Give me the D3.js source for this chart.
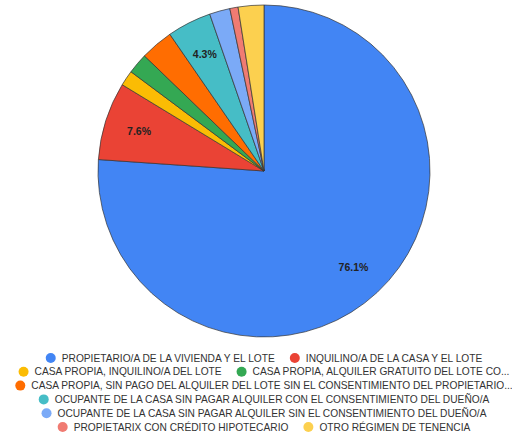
<!DOCTYPE html>
<html>
<head>
<meta charset="utf-8">
<script src="https://cdn.jsdelivr.net/npm/d3@7"></script>
<style>
  body { margin: 0; background: #fff; }
  svg { display: block; font-family: "Liberation Sans", Arial, sans-serif; }
</style>
</head>
<body>
<div id="vis"></div>
<script>
const FRAME_WIDTH = 512;
const FRAME_HEIGHT = 433;
const CENTER = {x: 264, y: 171};
const RADIUS = 166;

// data
const categories = [
  "PROPIETARIO/A DE LA VIVIENDA Y EL LOTE",
  "INQUILINO/A DE LA CASA Y EL LOTE",
  "CASA PROPIA, INQUILINO/A DEL LOTE",
  "CASA PROPIA, ALQUILER GRATUITO DEL LOTE CON EL CONSENTIMIENTO DEL PROPIETARIO/A",
  "CASA PROPIA, SIN PAGO DEL ALQUILER DEL LOTE SIN EL CONSENTIMIENTO DEL PROPIETARIO/A",
  "OCUPANTE DE LA CASA SIN PAGAR ALQUILER CON EL CONSENTIMIENTO DEL DUEÑO/A",
  "OCUPANTE DE LA CASA SIN PAGAR ALQUILER SIN EL CONSENTIMIENTO DEL DUEÑO/A",
  "PROPIETARIX CON CRÉDITO HIPOTECARIO",
  "OTRO RÉGIMEN DE TENENCIA"
];
const values = [76.1, 7.6, 1.5, 2.0, 3.2, 4.3, 2.0, 0.8, 2.5];
const colors = ["#4285F4", "#EA4335", "#FBBC04", "#34A853", "#FF6D01",
                "#46BDC6", "#7BAAF7", "#F07B72", "#FCD04F"];
const legendRows = [[0, 1], [2, 3], [4], [5], [6], [7, 8]];

const svg = d3.select("#vis")
              .append("svg")
              .attr("width", FRAME_WIDTH)
              .attr("height", FRAME_HEIGHT);

const data = categories.map((c, i) => ({name: c, value: values[i], color: colors[i]}));
const total = d3.sum(values);

const pie = d3.pie().value(d => d.value).sort(null);
const arc = d3.arc().innerRadius(0).outerRadius(RADIUS);
const labelArc = d3.arc().innerRadius(RADIUS * 0.79).outerRadius(RADIUS * 0.79);

const g = svg.append("g")
             .attr("transform", "translate(" + CENTER.x + "," + CENTER.y + ")");

const arcs = pie(data);

g.selectAll(".slice")
  .data(arcs)
  .enter()
  .append("path")
    .attr("class", "slice")
    .attr("d", arc)
    .attr("fill", d => d.data.color)
    .attr("stroke", "#333")
    .attr("stroke-width", 0.7);

// only the bigger slices get a label
g.selectAll(".lbl")
  .data(arcs.filter(d => d.data.value / total >= 0.04))
  .enter()
  .append("text")
    .attr("class", "lbl")
    .attr("transform", d => "translate(" + labelArc.centroid(d) + ")")
    .attr("text-anchor", "middle")
    .attr("dy", "0.35em")
    .attr("font-size", "10.5px")
    .attr("font-weight", "bold")
    .attr("fill", "#222")
    .text(d => (d.data.value / total * 100).toFixed(1) + "%");

// legend
const LEG = {left: 10, right: 508, top: 358, rowH: 13.8, r: 5, textGap: 11, itemGap: 15, fs: 10.2};
const maxW = LEG.right - LEG.left;

const legend = svg.append("g");

function fitText(node, full, width) {
  node.text(full);
  if (node.node().getComputedTextLength() <= width) return;
  let s = full;
  while (s.length > 1) {
    s = s.slice(0, -1);
    node.text(s.trimEnd() + "...");
    if (node.node().getComputedTextLength() <= width) return;
  }
}

legendRows.forEach((row, ri) => {
  const y = LEG.top + ri * LEG.rowH;
  const rowG = legend.append("g");
  let x = 0;
  row.forEach((idx, k) => {
    const item = rowG.append("g").attr("transform", "translate(" + x + ",0)");
    item.append("circle")
        .attr("cx", LEG.r)
        .attr("cy", y)
        .attr("r", LEG.r)
        .attr("fill", colors[idx]);
    const t = item.append("text")
        .attr("x", LEG.r + LEG.textGap)
        .attr("y", y)
        .attr("dy", "0.36em")
        .attr("font-size", LEG.fs + "px")
        .attr("fill", "#333");
    const avail = maxW - x - LEG.r - LEG.textGap;
    fitText(t, categories[idx], avail);
    x += LEG.r + LEG.textGap + t.node().getComputedTextLength() + LEG.itemGap;
  });
  const w = x - LEG.itemGap;
  const start = Math.max(LEG.left, CENTER.x - w / 2);
  rowG.attr("transform", "translate(" + start + ",0)");
});
</script>
</body>
</html>
